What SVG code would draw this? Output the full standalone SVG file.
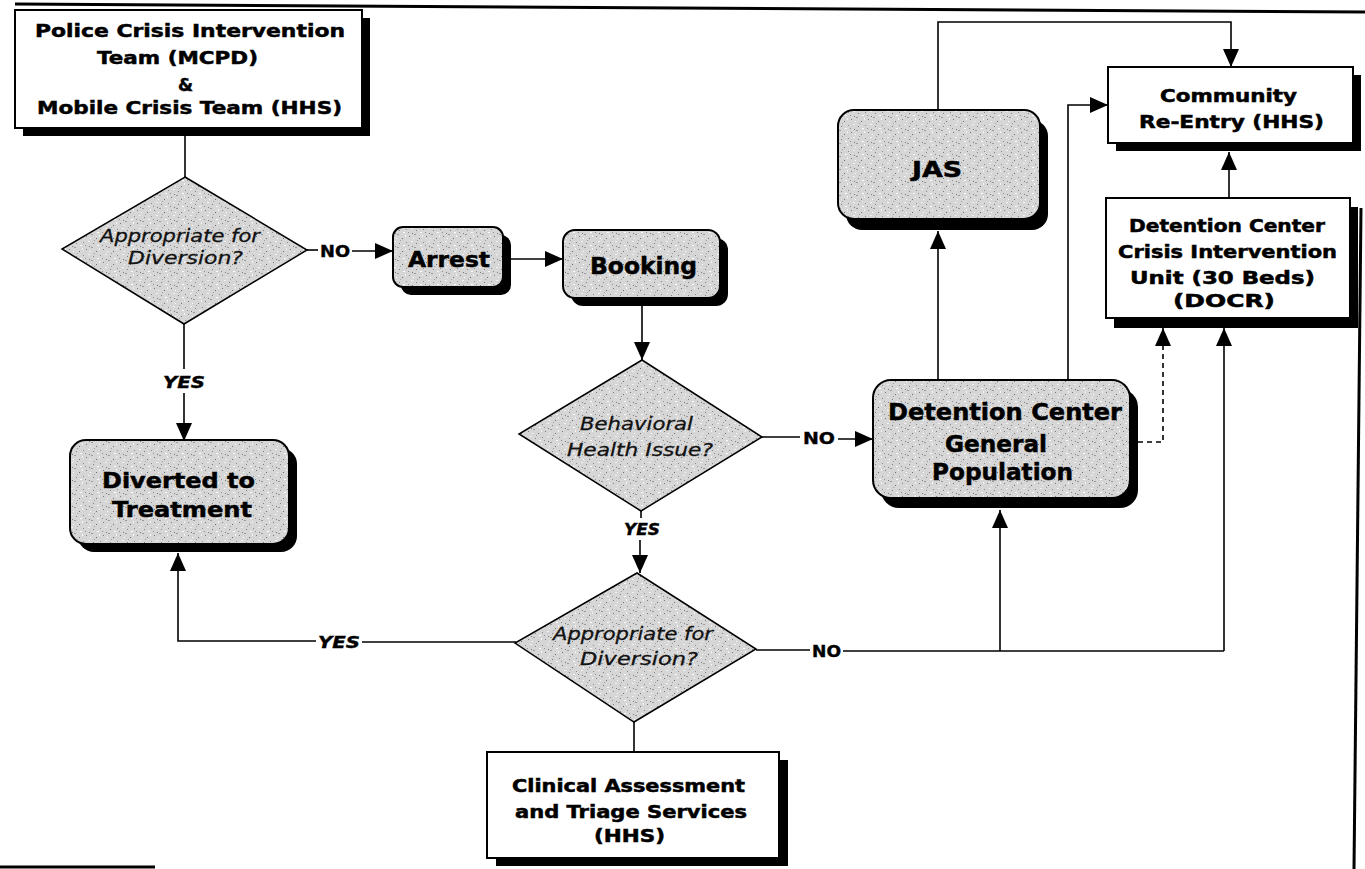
<svg xmlns="http://www.w3.org/2000/svg" width="1365" height="869" viewBox="0 0 1365 869">
<defs>
<pattern id="stip" width="17" height="13" patternUnits="userSpaceOnUse">
<rect width="17" height="13" fill="#d6d6d6"/>
<rect x="1" y="2" width="1" height="1" fill="#7a7a7a"/>
<rect x="6" y="0" width="2" height="1" fill="#9a9a9a"/>
<rect x="11" y="4" width="1" height="1" fill="#6e6e6e"/>
<rect x="14" y="1" width="1" height="2" fill="#f4f4f4"/>
<rect x="3" y="7" width="2" height="1" fill="#f2f2f2"/>
<rect x="8" y="9" width="1" height="1" fill="#808080"/>
<rect x="15" y="8" width="1" height="1" fill="#8c8c8c"/>
<rect x="12" y="11" width="2" height="1" fill="#ffffff"/>
<rect x="0" y="11" width="1" height="1" fill="#909090"/>
<rect x="5" y="4" width="1" height="1" fill="#ffffff"/>
<rect x="9" y="6" width="1" height="1" fill="#a0a0a0"/>
<rect x="4" y="12" width="1" height="1" fill="#7c7c7c"/>
</pattern>
<marker id="ah" markerUnits="userSpaceOnUse" markerWidth="18" markerHeight="16" refX="18" refY="8" orient="auto">
<path d="M0,0 L18,8 L0,16 z" fill="#000"/>
</marker>
<style>
.box{fill:#fff;stroke:#000;stroke-width:2}
.rbox{fill:url(#stip);stroke:#000;stroke-width:2}
.dia{fill:url(#stip);stroke:#000;stroke-width:1.5}
.sh{fill:#000}
.t{font-family:"DejaVu Sans","Verdana",sans-serif;font-weight:bold;fill:#000;stroke:#000;stroke-width:0.5}
.it{font-family:"DejaVu Sans","Verdana",sans-serif;font-style:italic;fill:#111;stroke:#111;stroke-width:0.3}
.lab{font-family:"DejaVu Sans","Verdana",sans-serif;font-weight:bold;font-size:16px;fill:#000;stroke:#000;stroke-width:0.4}
.ln{fill:none;stroke:#000;stroke-width:1.6}
.arr{fill:none;stroke:#000;stroke-width:1.6;marker-end:url(#ah)}
.dash{fill:none;stroke:#000;stroke-width:1.6;stroke-dasharray:5,4;marker-end:url(#ah)}
.edge{fill:none;stroke:#000;stroke-width:3}
</style>
</defs>
<rect width="1365" height="869" fill="#fff"/>

<g id="frame">
<line class="edge" x1="15" y1="4" x2="1365" y2="12"/>
<line class="edge" x1="1361" y1="208" x2="1354" y2="869"/>
<line class="edge" x1="0" y1="867" x2="155" y2="867"/>
</g>

<g id="connectors">
<path class="ln" d="M185,128 V177"/>
<path class="ln" d="M306,250 H318"/>
<text class="lab" x="320" y="257" textLength="30" lengthAdjust="spacingAndGlyphs">NO</text>
<path class="arr" d="M352,251 H393"/>
<path class="arr" d="M503,259 H563"/>
<path class="arr" d="M642,298 V360"/>
<path class="ln" d="M761,437 H800"/>
<text class="lab" x="803" y="444" textLength="32" lengthAdjust="spacingAndGlyphs">NO</text>
<path class="arr" d="M838,439 H873"/>
<path class="ln" d="M641,510 V518"/>
<text class="lab" x="624" y="535" font-style="italic" textLength="36" lengthAdjust="spacingAndGlyphs">YES</text>
<path class="arr" d="M640,540 V573"/>
<path class="ln" d="M634,722 V752"/>
<path class="ln" d="M516,642 H362"/>
<text class="lab" x="318" y="648" font-style="italic" textLength="42" lengthAdjust="spacingAndGlyphs">YES</text>
<path class="arr" d="M316,641 H178 V553"/>
<path class="ln" d="M184,324 V369"/>
<text class="lab" x="163" y="388" font-style="italic" textLength="42" lengthAdjust="spacingAndGlyphs">YES</text>
<path class="arr" d="M184,393 V441"/>
<path class="ln" d="M756,650 H810"/>
<text class="lab" x="812" y="657" textLength="29" lengthAdjust="spacingAndGlyphs">NO</text>
<path class="ln" d="M843,651 H1224"/>
<path class="arr" d="M1000,651 V510"/>
<path class="arr" d="M1224,651 V328"/>
<path class="arr" d="M938,380 V231"/>
<path class="arr" d="M1068,380 V105 H1108"/>
<path class="dash" d="M1138,442 H1163 V328"/>
<path class="arr" d="M938,110 V22 H1231 V67"/>
<path class="arr" d="M1229,198 V152"/>
</g>

<g id="police">
<rect class="sh" x="23" y="18" width="347" height="118"/>
<rect class="box" x="15" y="10" width="347" height="118"/>
<text class="t" font-size="18" x="35" y="37" textLength="310" lengthAdjust="spacingAndGlyphs">Police Crisis  Intervention</text>
<text class="t" font-size="18" x="97" y="64" textLength="161" lengthAdjust="spacingAndGlyphs">Team (MCPD)</text>
<text class="t" font-size="18" x="178" y="91" textLength="15" lengthAdjust="spacingAndGlyphs">&amp;</text>
<text class="t" font-size="18" x="37" y="114" textLength="305" lengthAdjust="spacingAndGlyphs">Mobile Crisis Team (HHS)</text>
</g>

<g id="decision1">
<polygon class="dia" points="185,177 307,250 184,324 62,249"/>
<text class="it" font-size="18" x="100" y="242" textLength="160" lengthAdjust="spacingAndGlyphs">Appropriate for</text>
<text class="it" font-size="18" x="128" y="264" textLength="115" lengthAdjust="spacingAndGlyphs">Diversion?</text>
</g>

<g id="arrest">
<rect class="sh" x="401" y="235" width="110" height="60" rx="10"/>
<rect class="rbox" x="393" y="227" width="110" height="60" rx="10"/>
<text class="t" font-size="22" x="408" y="267" textLength="82" lengthAdjust="spacingAndGlyphs">Arrest</text>
</g>

<g id="booking">
<rect class="sh" x="571" y="238" width="157" height="68" rx="12"/>
<rect class="rbox" x="563" y="230" width="157" height="68" rx="12"/>
<text class="t" font-size="23" x="590" y="274" textLength="107" lengthAdjust="spacingAndGlyphs">Booking</text>
</g>

<g id="decision2">
<polygon class="dia" points="642,360 762,437 641,511 519,434"/>
<text class="it" font-size="18" x="580" y="430" textLength="113" lengthAdjust="spacingAndGlyphs">Behavioral</text>
<text class="it" font-size="18" x="567" y="456" textLength="146" lengthAdjust="spacingAndGlyphs">Health Issue?</text>
</g>

<g id="decision3">
<polygon class="dia" points="637,573 756,649 634,722 515,643"/>
<text class="it" font-size="18" x="553" y="640" textLength="160" lengthAdjust="spacingAndGlyphs">Appropriate for</text>
<text class="it" font-size="18" x="580" y="665" textLength="118" lengthAdjust="spacingAndGlyphs">Diversion?</text>
</g>

<g id="clinical">
<rect class="sh" x="496" y="760" width="292" height="106"/>
<rect class="box" x="487" y="752" width="292" height="106"/>
<text class="t" font-size="17" x="512" y="792" textLength="233" lengthAdjust="spacingAndGlyphs">Clinical Assessment</text>
<text class="t" font-size="17" x="515" y="818" textLength="232" lengthAdjust="spacingAndGlyphs">and Triage Services</text>
<text class="t" font-size="17" x="594" y="842" textLength="71" lengthAdjust="spacingAndGlyphs">(HHS)</text>
</g>

<g id="diverted">
<rect class="sh" x="78" y="448" width="219" height="104" rx="16"/>
<rect class="rbox" x="70" y="440" width="219" height="104" rx="16"/>
<text class="t" font-size="22" x="102" y="488" textLength="153" lengthAdjust="spacingAndGlyphs">Diverted to</text>
<text class="t" font-size="22" x="112" y="517" textLength="140" lengthAdjust="spacingAndGlyphs">Treatment</text>
</g>

<g id="general-population">
<rect class="sh" x="881" y="389" width="257" height="119" rx="18"/>
<rect class="rbox" x="873" y="380" width="257" height="118" rx="18"/>
<text class="t" font-size="23" x="888" y="420" textLength="234" lengthAdjust="spacingAndGlyphs">Detention Center</text>
<text class="t" font-size="23" x="945" y="452" textLength="102" lengthAdjust="spacingAndGlyphs">General</text>
<text class="t" font-size="23" x="932" y="480" textLength="141" lengthAdjust="spacingAndGlyphs">Population</text>
</g>

<g id="jas">
<rect class="sh" x="846" y="120" width="202" height="110" rx="16"/>
<rect class="rbox" x="838" y="110" width="202" height="109" rx="16"/>
<text class="t" font-size="21" x="912" y="177" textLength="50" lengthAdjust="spacingAndGlyphs">JAS</text>
</g>

<g id="community">
<rect class="sh" x="1116" y="75" width="245" height="76"/>
<rect class="box" x="1108" y="67" width="245" height="76"/>
<text class="t" font-size="17" x="1160" y="102" textLength="137" lengthAdjust="spacingAndGlyphs">Community</text>
<text class="t" font-size="17" x="1139" y="128" textLength="185" lengthAdjust="spacingAndGlyphs">Re-Entry (HHS)</text>
</g>

<g id="crisis-unit">
<rect class="sh" x="1114" y="207" width="244" height="121"/>
<rect class="box" x="1106" y="198" width="244" height="120"/>
<text class="t" font-size="17" x="1129" y="232" textLength="196" lengthAdjust="spacingAndGlyphs">Detention Center</text>
<text class="t" font-size="17" x="1118" y="258" textLength="219" lengthAdjust="spacingAndGlyphs">Crisis Intervention</text>
<text class="t" font-size="17" x="1130" y="284" textLength="185" lengthAdjust="spacingAndGlyphs">Unit (30 Beds)</text>
<text class="t" font-size="17" x="1173" y="307" textLength="102" lengthAdjust="spacingAndGlyphs">(DOCR)</text>
</g>
</svg>
